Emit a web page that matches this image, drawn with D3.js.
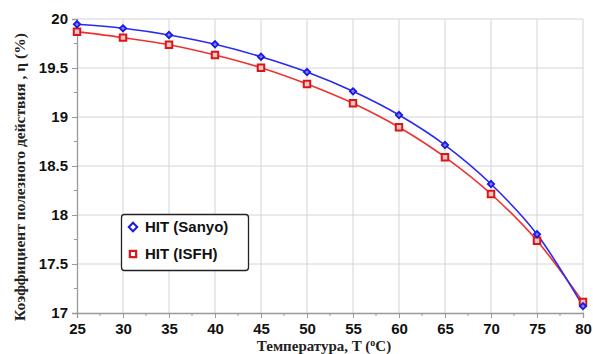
<!DOCTYPE html>
<html><head><meta charset="utf-8">
<script src="https://cdn.jsdelivr.net/npm/d3@7"></script>
<style>body{margin:0;background:#fff}svg{display:block}</style>
</head><body>
<svg id="c" width="593" height="354"></svg>
<script>
const temps = [25,30,35,40,45,50,55,60,65,70,75,80];
const sanyo = [19.946,19.905,19.837,19.742,19.615,19.459,19.262,19.02,18.714,18.316,17.803,17.07];
const isfh  = [19.871,19.81,19.738,19.633,19.503,19.337,19.14,18.895,18.59,18.214,17.738,17.112];
const xTicks = [25,30,35,40,45,50,55,60,65,70,75,80];
const yTicks = [17,17.5,18,18.5,19,19.5,20];
const seriesNames = ["HIT (Sanyo)","HIT (ISFH)"];

const svg = d3.select("#c");
const L=77,R=583,T=19,B=313;
const x = d3.scaleLinear().domain([25,80]).range([L,R]);
const y = d3.scaleLinear().domain([17,20]).range([B,T]);

// grid
const g = svg.append("g");
g.selectAll(".vx").data(xTicks.slice(1)).enter().append("line")
 .attr("x1",d=>x(d)).attr("x2",d=>x(d)).attr("y1",T).attr("y2",B)
 .attr("stroke","#d4d4d4").attr("stroke-width",1);
g.selectAll(".hy").data(yTicks.slice(1)).enter().append("line")
 .attr("x1",L).attr("x2",R).attr("y1",d=>y(d)).attr("y2",d=>y(d))
 .attr("stroke","#d4d4d4").attr("stroke-width",1);

// axes
const fontTick = "bold 15px Arial, 'Liberation Sans', sans-serif";
const xAxis = d3.axisBottom(x).tickValues(xTicks).tickSize(5).tickPadding(5);
const xa = svg.append("g").attr("transform",`translate(0,${B})`).call(xAxis);
xa.select(".domain").attr("stroke","#999").attr("stroke-width",1.3);
xa.selectAll(".tick line").attr("stroke","#999");
xa.selectAll(".tick text").style("font",fontTick).attr("fill","#111").attr("dy","0.75em");
svg.append("g").selectAll("line").data(d3.range(27.5,80,5)).enter().append("line")
 .attr("x1",d=>x(d)).attr("x2",d=>x(d)).attr("y1",B).attr("y2",B+3).attr("stroke","#999");

const yAxis = d3.axisLeft(y).tickValues(yTicks).tickFormat(d3.format("")).tickSize(5).tickPadding(4);
const ya = svg.append("g").attr("transform",`translate(${L},0)`).call(yAxis);
ya.select(".domain").attr("stroke","#999").attr("stroke-width",1.3);
ya.selectAll(".tick line").attr("stroke","#999");
ya.selectAll(".tick text").style("font",fontTick).attr("fill","#111");
svg.append("g").selectAll("line").data(d3.range(17.25,20,0.5)).enter().append("line")
 .attr("x1",L-3).attr("x2",L).attr("y1",d=>y(d)).attr("y2",d=>y(d)).attr("stroke","#999");

// curves
const line = d3.line().x((d,i)=>x(temps[i])).y(d=>y(d)).curve(d3.curveMonotoneX);
svg.append("path").datum(isfh).attr("d",line).attr("fill","none").attr("stroke","#f03030").attr("stroke-width",1.6);
svg.append("path").datum(sanyo).attr("d",line).attr("fill","none").attr("stroke","#2a2af0").attr("stroke-width",1.6);

const square = d3.symbol().type(d3.symbolSquare).size(42);
const diamond = d3.symbol().type(d3.symbolSquare).size(20);
svg.append("g").selectAll("path").data(isfh).enter().append("path")
 .attr("d",square).attr("transform",(d,i)=>`translate(${x(temps[i])},${y(d)})`)
 .attr("fill","#f4c4c4").attr("stroke","#d81818").attr("stroke-width",2);
svg.append("g").selectAll("path").data(sanyo).enter().append("path")
 .attr("d",diamond).attr("transform",(d,i)=>`translate(${x(temps[i])},${y(d)}) rotate(45)`)
 .attr("fill","#8080ff").attr("stroke","#1a1ae0").attr("stroke-width",1.8);

// legend
const lg = svg.append("g");
lg.append("rect").attr("x",121.5).attr("y",214.5).attr("width",127).attr("height",56).attr("rx",3)
 .attr("fill","#fff").attr("stroke","#222").attr("stroke-width",1.3);
lg.append("path").attr("d",d3.symbol().type(d3.symbolSquare).size(36)).attr("transform","translate(133,227) rotate(45)")
 .attr("fill","#fff").attr("stroke","#1a1ae0").attr("stroke-width",2);
lg.append("path").attr("d",d3.symbol().type(d3.symbolSquare).size(40)).attr("transform","translate(133,254)")
 .attr("fill","#fff").attr("stroke","#d81818").attr("stroke-width",2.2);
lg.selectAll("text").data(seriesNames).enter().append("text")
 .attr("x",145).attr("y",(d,i)=>227+i*27).attr("dy","0.36em")
 .style("font","bold 15px Arial, 'Liberation Sans', sans-serif").attr("fill","#111").text(d=>d);

// axis titles
svg.append("text").attr("transform","translate(25,177) rotate(-90)").attr("text-anchor","middle")
 .style("font","bold 15.5px 'Liberation Serif', 'Times New Roman', serif").attr("fill","#222")
 .text("Коэффициент полезного действия , η (%)");
const xt = svg.append("text").attr("x",324).attr("y",351).attr("text-anchor","middle")
 .style("font","bold 15px 'Liberation Serif', 'Times New Roman', serif").attr("fill","#222");
xt.append("tspan").text("Температура, T (");
xt.append("tspan").attr("dy",-5).style("font-size","10px").text("o");
xt.append("tspan").attr("dy",5).text("C)");
</script>
</body></html>
